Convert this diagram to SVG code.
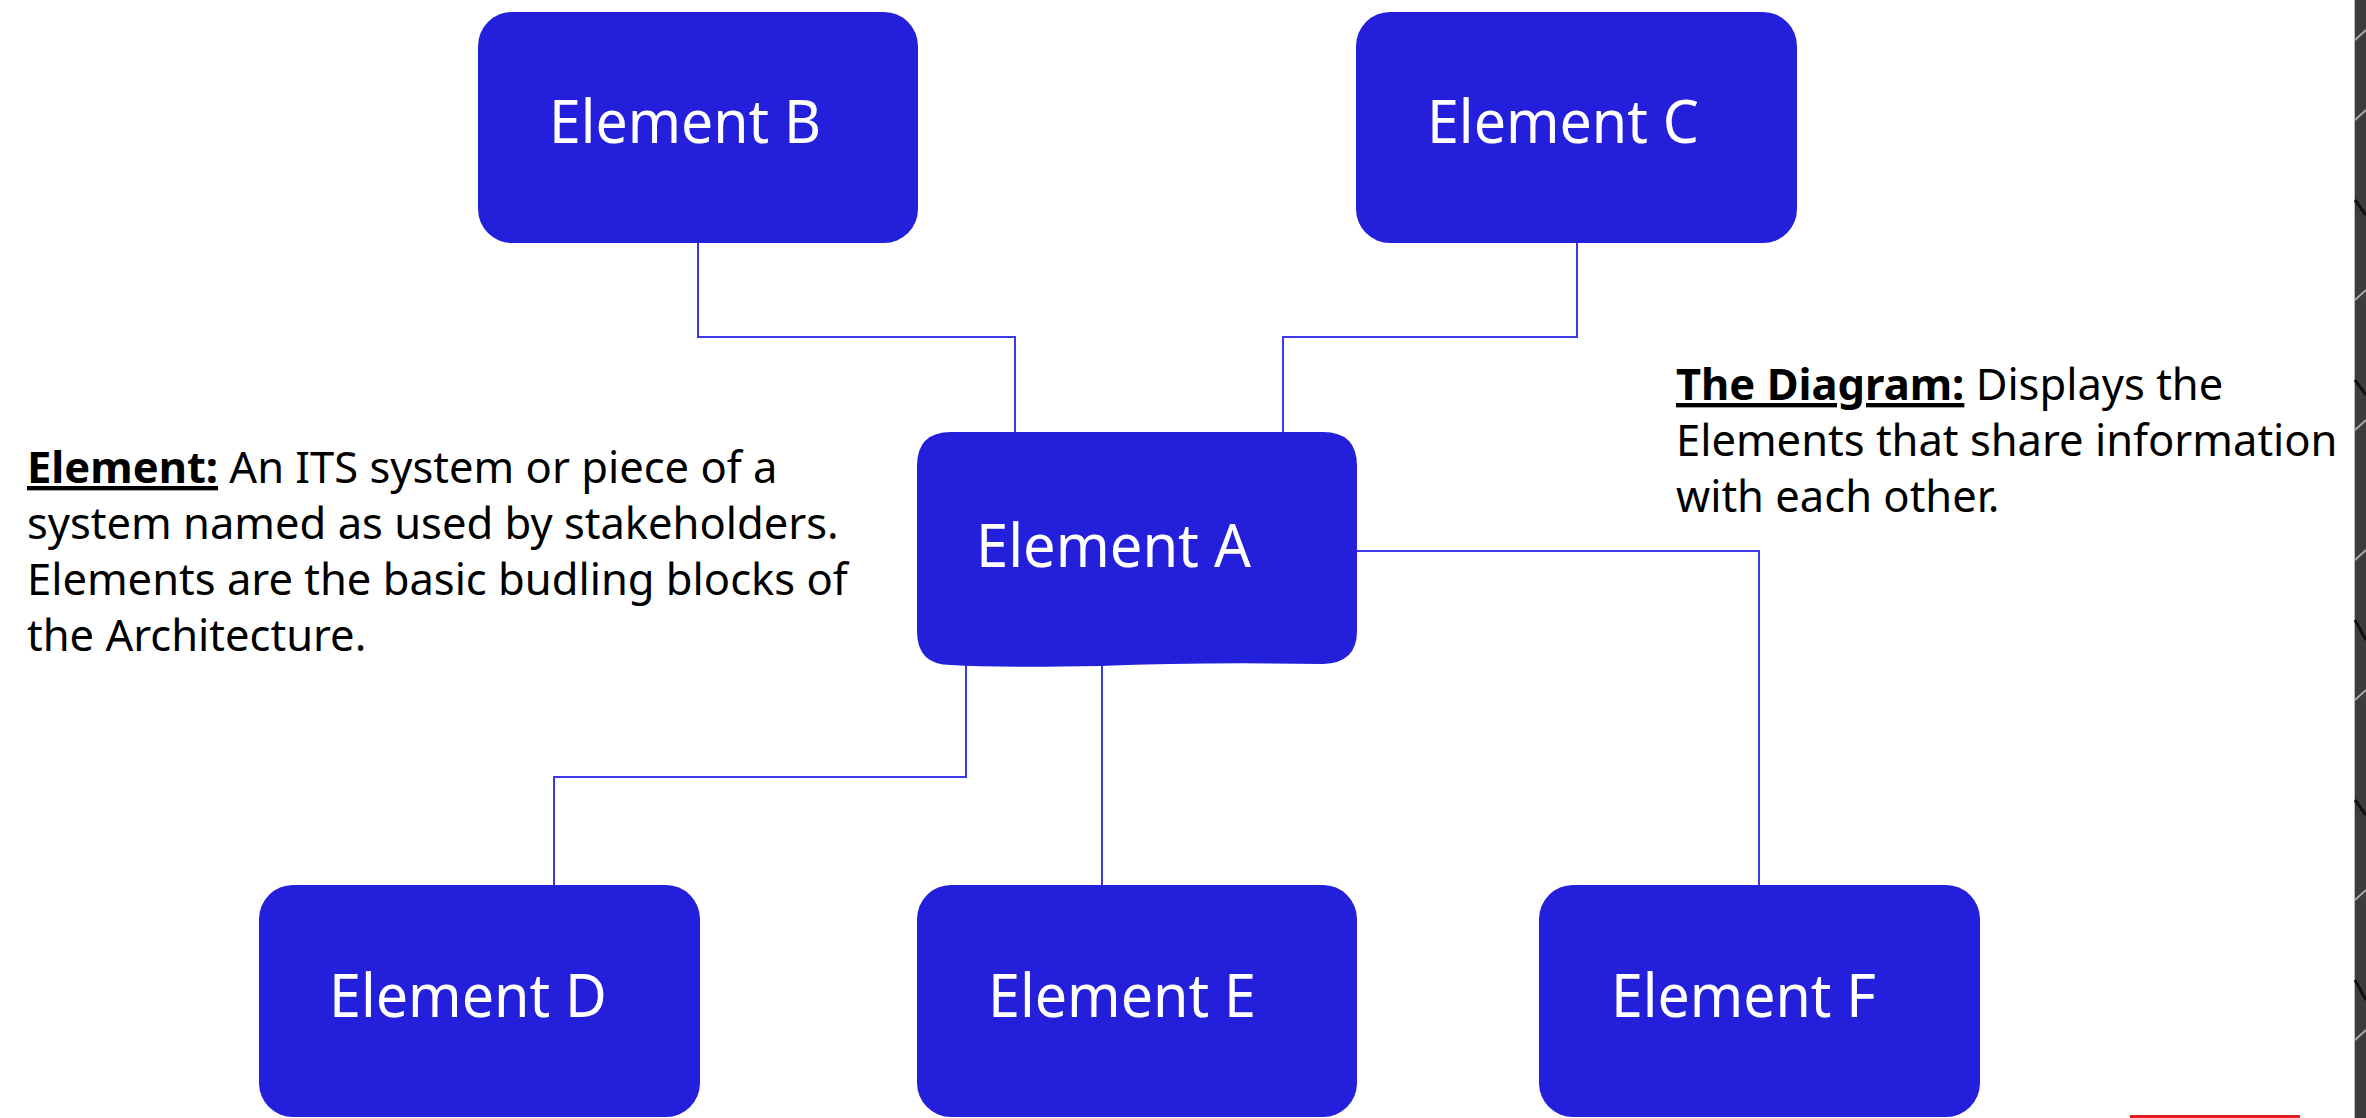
<svg xmlns="http://www.w3.org/2000/svg" width="2366" height="1118" viewBox="0 0 2366 1118">
<style>
.box{fill:#231fdb;}
.lbl{font-family:"Noto Sans","Open Sans",sans-serif;font-size:61px;fill:#ffffff;}
.body{font-family:"Noto Sans","Open Sans",sans-serif;font-size:43.5px;fill:#000000;}
.b{font-weight:bold;text-decoration:underline;}
.conn{fill:none;stroke:#3d39e8;stroke-width:2;}
</style>
<rect x="0" y="0" width="2366" height="1118" fill="#ffffff"/>
<g id="connectors">
<polyline class="conn" points="698,243 698,337 1015,337 1015,432"/>
<polyline class="conn" points="1577,243 1577,337 1283,337 1283,432"/>
<polyline class="conn" points="1357,551 1759,551 1759,885"/>
<polyline class="conn" points="966,665 966,777 554,777 554,885"/>
<polyline class="conn" points="1102,665 1102,885"/>
</g>
<g id="node-b"><rect class="box" x="478" y="12" width="440" height="231" rx="34"/><text class="lbl" x="549" y="143" textLength="272" lengthAdjust="spacingAndGlyphs">Element B</text></g>
<g id="node-c"><rect class="box" x="1356" y="12" width="441" height="231" rx="34"/><text class="lbl" x="1427" y="143" textLength="272" lengthAdjust="spacingAndGlyphs">Element C</text></g>
<g id="node-a"><path class="box" d="M951,432 H1323 Q1357,432 1357,466 V631 Q1357,663 1323,664 Q1200,662 1100,666 Q1000,668 951,665 Q917,665 917,631 V466 Q917,432 951,432 Z"/><text class="lbl" x="976" y="567" textLength="275" lengthAdjust="spacingAndGlyphs">Element A</text></g>
<g id="node-d"><rect class="box" x="259" y="885" width="441" height="232" rx="34"/><text class="lbl" x="329" y="1017" textLength="278" lengthAdjust="spacingAndGlyphs">Element D</text></g>
<g id="node-e"><rect class="box" x="917" y="885" width="440" height="232" rx="34"/><text class="lbl" x="988" y="1017" textLength="268" lengthAdjust="spacingAndGlyphs">Element E</text></g>
<g id="node-f"><rect class="box" x="1539" y="885" width="441" height="232" rx="34"/><text class="lbl" x="1611" y="1017" textLength="265" lengthAdjust="spacingAndGlyphs">Element F</text></g>
<g id="text-left">
<text class="body" x="27" y="483"><tspan class="b">Element:</tspan> An ITS system or piece of a</text>
<text class="body" x="27" y="539">system named as used by stakeholders.</text>
<text class="body" x="27" y="595">Elements are the basic budling blocks of</text>
<text class="body" x="27" y="651">the Architecture.</text>
</g>
<g id="text-right">
<text class="body" x="1676" y="400"><tspan class="b">The Diagram:</tspan> Displays the</text>
<text class="body" x="1676" y="456">Elements that share information</text>
<text class="body" x="1676" y="512">with each other.</text>
</g>
<g id="edge-strip">
<rect x="2354" y="0" width="12" height="1118" fill="#3c3c3c"/>
<line x1="2354.5" y1="0" x2="2354.5" y2="1118" stroke="#bdbdbd" stroke-width="1"/>
<path d="M2355,40 L2366,30 M2355,120 L2366,110 M2355,300 L2366,290 M2355,430 L2366,420 M2355,560 L2366,550 M2355,700 L2366,690 M2355,900 L2366,890 M2355,1040 L2366,1030" stroke="#a8a8a8" stroke-width="2"/>
<path d="M2355,200 L2366,215 M2355,380 L2366,395 M2355,620 L2366,640 M2355,800 L2366,815 M2355,980 L2366,1000" stroke="#111111" stroke-width="3"/>
</g>
<line x1="2130" y1="1116.5" x2="2300" y2="1116.5" stroke="#e02020" stroke-width="3"/>
</svg>
